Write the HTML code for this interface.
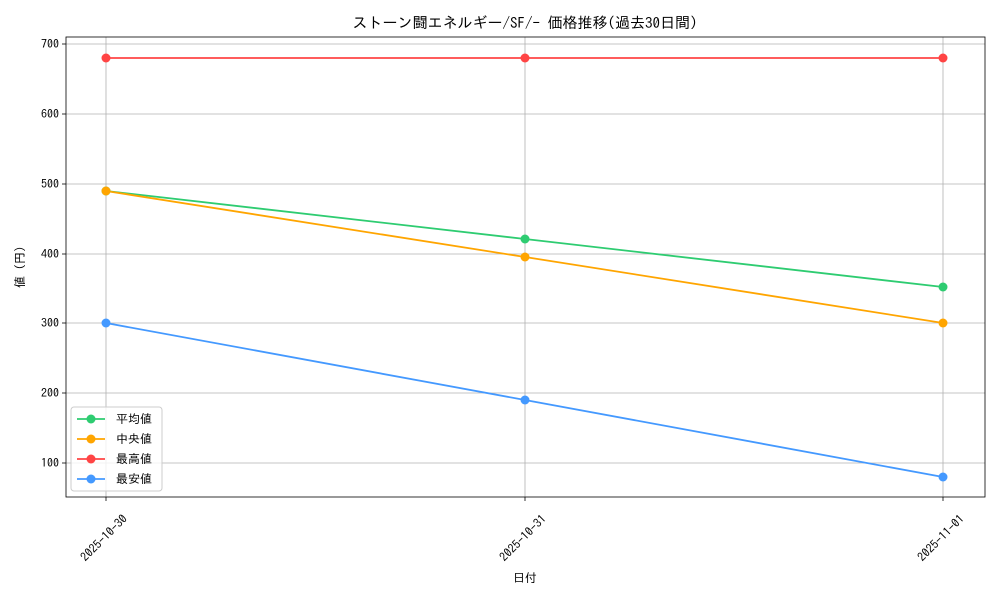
<!DOCTYPE html>
<html><head><meta charset="utf-8"><style>
body{margin:0;background:#fff}
svg{display:block;font-family:"IPAGothic","Liberation Sans","Noto Sans CJK JP",sans-serif}
</style></head><body>
<svg width="1000" height="600" viewBox="0 0 1000 600" xmlns="http://www.w3.org/2000/svg">
<rect width="1000" height="600" fill="#fff"/>
<text x="525" y="28" font-size="15" text-anchor="middle" fill="#000">ストーン闘エネルギー/SF/- 価格推移(過去30日間)</text>
<g stroke="#b0b0b0" stroke-width="0.8">
<line x1="106" y1="37" x2="106" y2="497"/><line x1="525" y1="37" x2="525" y2="497"/><line x1="943" y1="37" x2="943" y2="497"/>
<line x1="66" y1="44" x2="985" y2="44"/><line x1="66" y1="114" x2="985" y2="114"/><line x1="66" y1="184" x2="985" y2="184"/><line x1="66" y1="254" x2="985" y2="254"/><line x1="66" y1="323" x2="985" y2="323"/><line x1="66" y1="393" x2="985" y2="393"/><line x1="66" y1="463" x2="985" y2="463"/>
</g>
<rect x="66" y="37" width="919" height="460" fill="none" stroke="#000" stroke-width="0.8"/>
<g stroke="#000" stroke-width="0.8">
<line x1="62" y1="44" x2="66" y2="44"/><line x1="62" y1="114" x2="66" y2="114"/><line x1="62" y1="184" x2="66" y2="184"/><line x1="62" y1="254" x2="66" y2="254"/><line x1="62" y1="323" x2="66" y2="323"/><line x1="62" y1="393" x2="66" y2="393"/><line x1="62" y1="463" x2="66" y2="463"/>
<line x1="106" y1="497" x2="106" y2="501"/><line x1="525" y1="497" x2="525" y2="501"/><line x1="943" y1="497" x2="943" y2="501"/>
</g>
<g font-size="12" text-anchor="end" fill="#000">
<text x="59" y="48">700</text><text x="59" y="118">600</text><text x="59" y="188">500</text><text x="59" y="258">400</text><text x="59" y="327">300</text><text x="59" y="397">200</text><text x="59" y="467">100</text>
</g>
<g font-size="12" text-anchor="middle" fill="#000">
<text transform="translate(104,538) rotate(-45)" dy="4">2025-10-30</text>
<text transform="translate(523,538) rotate(-45)" dy="4">2025-10-31</text>
<text transform="translate(941,538) rotate(-45)" dy="4">2025-11-01</text>
</g>
<text x="525" y="582" font-size="12" text-anchor="middle">日付</text>
<text transform="translate(24,267) rotate(-90)" font-size="12" text-anchor="middle">値 (円)</text>
<g fill="none" stroke-width="1.8">
<polyline points="106,58 525,58 943,58" stroke="#ff4444"/>
<polyline points="106,191 525,239 943,287" stroke="#2ecc71"/>
<polyline points="106,191 525,257 943,323" stroke="#ffa500"/>
<polyline points="106,323 525,400 943,477" stroke="#4499ff"/>
</g>
<g fill="#ff4444"><circle cx="106" cy="58" r="4.5"/><circle cx="525" cy="58" r="4.5"/><circle cx="943" cy="58" r="4.5"/></g>
<g fill="#2ecc71"><circle cx="106" cy="191" r="4.5"/><circle cx="525" cy="239" r="4.5"/><circle cx="943" cy="287" r="4.5"/></g>
<g fill="#ffa500"><circle cx="106" cy="191" r="4.5"/><circle cx="525" cy="257" r="4.5"/><circle cx="943" cy="323" r="4.5"/></g>
<g fill="#4499ff"><circle cx="106" cy="323" r="4.5"/><circle cx="525" cy="400" r="4.5"/><circle cx="943" cy="477" r="4.5"/></g>
<rect x="71" y="407" width="91" height="84" rx="3" fill="#fff" fill-opacity="0.8" stroke="#ccc"/>
<g stroke-width="1.8">
<line x1="77" y1="419" x2="105" y2="419" stroke="#2ecc71"/><circle cx="91" cy="419" r="4.5" fill="#2ecc71"/>
<line x1="77" y1="439" x2="105" y2="439" stroke="#ffa500"/><circle cx="91" cy="439" r="4.5" fill="#ffa500"/>
<line x1="77" y1="459" x2="105" y2="459" stroke="#ff4444"/><circle cx="91" cy="459" r="4.5" fill="#ff4444"/>
<line x1="77" y1="479" x2="105" y2="479" stroke="#4499ff"/><circle cx="91" cy="479" r="4.5" fill="#4499ff"/>
</g>
<g font-size="12"><text x="116" y="423">平均値</text><text x="116" y="443">中央値</text><text x="116" y="463">最高値</text><text x="116" y="483">最安値</text></g>
</svg>
</body></html>
